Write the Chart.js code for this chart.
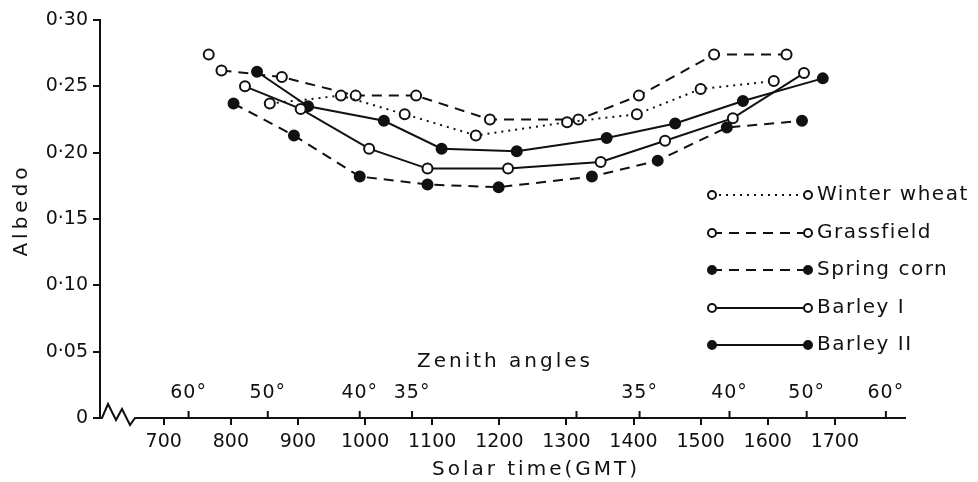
<!DOCTYPE html>
<html>
<head>
<meta charset="utf-8">
<script src="https://cdn.jsdelivr.net/npm/chart.js@4.4.1/dist/chart.umd.min.js"></script>
<style>
  html, body { margin: 0; background: #fff; }
  #wrap { width: 978px; height: 482px; }
</style>
</head>
<body>
<div id="wrap"><canvas id="albedo"></canvas></div>
<script>
// valeurs : heure solaire (HHMM) et albedo
const winterWheatTime = [858, 964, 1059, 1165, 1301, 1405, 1500, 1609]
const winterWheatAlbedo = [0.237, 0.243, 0.229, 0.213, 0.223, 0.229, 0.248, 0.254]

const grassfieldTime = [767, 786, 876, 986, 1076, 1186, 1318, 1408, 1520, 1628]
const grassfieldAlbedo = [0.274, 0.262, 0.257, 0.243, 0.243, 0.225, 0.225, 0.243, 0.274, 0.274]

const springCornTime = [804, 894, 992, 1093, 1199, 1338, 1436, 1539, 1651]
const springCornAlbedo = [0.237, 0.213, 0.182, 0.176, 0.174, 0.182, 0.194, 0.219, 0.224]

const barley1Time = [821, 904, 1006, 1093, 1213, 1351, 1447, 1548, 1654]
const barley1Albedo = [0.250, 0.233, 0.203, 0.188, 0.188, 0.193, 0.209, 0.226, 0.260]

const barley2Time = [839, 915, 1028, 1114, 1226, 1360, 1462, 1563, 1682]
const barley2Albedo = [0.261, 0.235, 0.224, 0.203, 0.201, 0.211, 0.222, 0.239, 0.256]

// graduations
const timeTicks = [700, 800, 900, 1000, 1100, 1200, 1300, 1400, 1500, 1600, 1700]
const zenithTimes = [737, 855, 992, 1070, 1315, 1409, 1543, 1658, 1776]
const zenithLabels = ["60°", "50°", "40°", "35°", "", "35°", "40°", "50°", "60°"]

const INK = "#111"
const FONT = "DejaVu Sans"

function points(times, values) {
  return times.map((t, i) => ({ x: t, y: values[i] }))
}

function serie(label, times, values, dash, filled) {
  return {
    label: label,
    data: points(times, values),
    borderColor: INK,
    borderWidth: 2,
    borderDash: dash,
    pointRadius: 5,
    pointBorderWidth: 2,
    pointBorderColor: INK,
    pointBackgroundColor: filled ? INK : "#fff",
    tension: 0,
    fill: false,
  }
}

const datasets = [
  serie("Winter wheat", winterWheatTime, winterWheatAlbedo, [2, 5], false),
  serie("Grassfield", grassfieldTime, grassfieldAlbedo, [10, 7], false),
  serie("Spring corn", springCornTime, springCornAlbedo, [10, 7], true),
  serie("Barley I", barley1Time, barley1Albedo, [], false),
  serie("Barley II", barley2Time, barley2Albedo, [], true),
]
// le premier point de Grassfield est isolé sur la figure
datasets[1].segment = {
  borderColor: ctx => ctx.p0DataIndex === 0 ? "rgba(0,0,0,0)" : undefined,
}

// texte espacé comme sur la figure
function spaced(ctx, text, x, y, size, spacing) {
  ctx.font = size + "px '" + FONT + "'"
  ctx.letterSpacing = spacing + "px"
  ctx.fillText(text, x, y)
  ctx.letterSpacing = "0px"
}

// axe des x avec la cassure en zigzag, angles zénithaux, titres, légende
const decorations = {
  id: "decorations",
  afterDraw(chart) {
    const { ctx, chartArea: { left, right, bottom }, scales: { x } } = chart
    ctx.save()
    ctx.strokeStyle = INK
    ctx.fillStyle = INK
    ctx.lineWidth = 2
    ctx.setLineDash([])

    // ligne de l'axe des x + zigzag
    ctx.beginPath()
    ctx.moveTo(left, bottom)
    ctx.lineTo(left + 2, bottom)
    ctx.lineTo(left + 8, bottom - 14)
    ctx.lineTo(left + 16, bottom + 2)
    ctx.lineTo(left + 22, bottom - 9)
    ctx.lineTo(left + 30, bottom + 7)
    ctx.lineTo(left + 35, bottom)
    ctx.lineTo(right, bottom)
    ctx.stroke()

    // angles zénithaux au-dessus de l'axe
    ctx.textAlign = "center"
    ctx.textBaseline = "middle"
    zenithTimes.forEach((t, i) => {
      const px = x.getPixelForValue(t)
      ctx.beginPath()
      ctx.moveTo(px, bottom)
      ctx.lineTo(px, bottom - 7)
      ctx.stroke()
      if (zenithLabels[i]) spaced(ctx, zenithLabels[i], px, bottom - 25, 19, 1)
    })
    spaced(ctx, "Zenith angles", 505, 362, 20, 3)
    spaced(ctx, "Solar time(GMT)", 536, 470, 20, 3)

    // titre de l'axe des y
    ctx.save()
    ctx.translate(22, 210)
    ctx.rotate(-Math.PI / 2)
    spaced(ctx, "Albedo", 0, 0, 20, 4)
    ctx.restore()

    // légende
    const rows = [195, 233, 270, 308, 345]
    chart.data.datasets.forEach((ds, i) => {
      const y = rows[i]
      ctx.setLineDash(ds.borderDash)
      ctx.beginPath()
      ctx.moveTo(712, y)
      ctx.lineTo(808, y)
      ctx.stroke()
      ctx.setLineDash([])
      ;[712, 808].forEach(px => {
        ctx.beginPath()
        ctx.arc(px, y, 4, 0, Math.PI * 2)
        ctx.fillStyle = ds.pointBackgroundColor
        ctx.fill()
        ctx.stroke()
      })
      ctx.fillStyle = INK
      ctx.textAlign = "left"
      spaced(ctx, ds.label, 817, y, 20, 1.5)
    })
    ctx.restore()
  }
}

new Chart(document.getElementById("albedo"), {
  type: "line",
  data: { datasets: datasets },
  options: {
    responsive: true,
    maintainAspectRatio: false,
    animation: false,
    layout: { padding: { top: 20, right: 72, left: 0, bottom: 0 } },
    plugins: {
      legend: { display: false },
      tooltip: { enabled: false },
    },
    scales: {
      x: {
        type: "linear",
        min: 605,
        max: 1806,
        afterBuildTicks: scale => { scale.ticks = timeTicks.map(v => ({ value: v })) },
        afterFit: scale => { scale.height = 64 },
        border: { display: false },
        grid: { drawOnChartArea: false, drawTicks: true, tickLength: 7, color: INK, tickColor: INK, lineWidth: 2 },
        ticks: {
          color: INK,
          padding: 6,
          maxRotation: 0,
          autoSkip: false,
          font: { family: FONT, size: 19 },
          callback: v => String(v),
        },
      },
      y: {
        min: 0,
        max: 0.30,
        afterFit: scale => { scale.width = 100 },
        border: { display: true, color: INK, width: 2 },
        grid: { drawOnChartArea: false, drawTicks: true, tickLength: 7, color: INK, tickColor: INK, lineWidth: 2 },
        ticks: {
          stepSize: 0.05,
          color: INK,
          padding: 5,
          font: { family: FONT, size: 19 },
          callback: v => v === 0 ? "0" : v.toFixed(2).replace(".", "·"),
        },
      },
    },
  },
  plugins: [decorations],
})
</script>
</body>
</html>
